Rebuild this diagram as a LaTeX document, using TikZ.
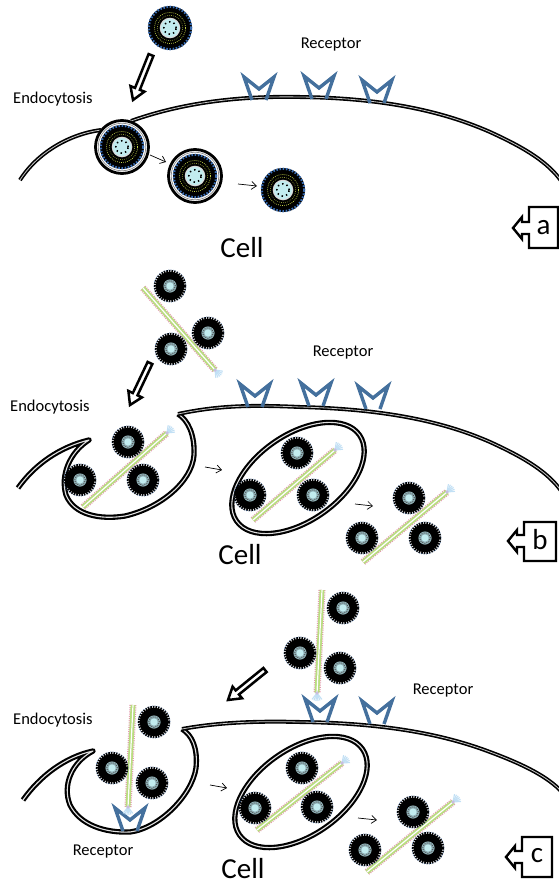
\documentclass[tikz,border=0pt]{standalone}
\usepackage{fontspec}
\setmainfont{Carlito}
\usetikzlibrary{calc,arrows.meta}

\definecolor{recblue}{HTML}{44709D}
\definecolor{dotblue}{HTML}{3C6FB5}
\definecolor{lblue}{HTML}{C2ECEF}
\definecolor{hub}{HTML}{8FB0B6}
\definecolor{ygreen}{HTML}{C8D84A}
\definecolor{rodgreen}{HTML}{B9DD80}
\definecolor{rodpink}{HTML}{E39AAE}
\definecolor{fanblue}{HTML}{C2E0F5}
\definecolor{lavender}{HTML}{C8BDE0}

\tikzset{
  membrane/.style={draw=black, double=black!22, line width=1.6pt, double distance=0.8pt, line join=round},
  pouch/.style={draw=black, double=black!12, line width=2.1pt, double distance=1.1pt, line join=round},
  vesout/.style={draw=black, fill=white, line width=2.8pt},
  vesin/.style={draw=black!45, line width=0.7pt},
  smallarrow/.style={line width=0.7pt, -{Straight Barb[length=5pt,width=8pt]}},
  bigarrow/.style={draw=black, fill=white, line width=2.5pt, line join=miter},
  labelbox/.style={draw=black, fill=white, line width=2.4pt, line join=miter},
  lbl/.style={font=\fontsize{16.5}{19}\selectfont, inner sep=0pt},
  celllbl/.style={font=\fontsize{29}{33}\selectfont, inner sep=0pt},
  boxlbl/.style={font=\fontsize{29}{33}\selectfont, inner sep=0pt},
  receptor/.pic={
    \draw[recblue, line width=3.4pt, line join=miter, miter limit=10]
      (-7,0) -- (-15,-23) -- (0,-11) -- (15,-23) -- (7,0);
  },
  bigparticle/.pic={
    \fill[black] (0,0) circle (22pt);
    \draw[dotblue, line width=2.2pt, dash pattern=on 1.6pt off 1.6pt] (0,0) circle (21.2pt);
    \draw[ygreen, line width=0.7pt, dash pattern=on 0.8pt off 1.2pt] (0,0) circle (15.5pt);
    \draw[ygreen!70!black, line width=0.6pt, dash pattern=on 0.8pt off 1.2pt] (0,0) circle (12.8pt);
    \fill[black!15] (0,0) circle (10.3pt);
    \fill[lblue] (0,0) circle (9.1pt);
    \draw[black, line width=1.6pt, dash pattern=on 1.4pt off 3.2pt] (0,0) circle (6.2pt);
  },
  tire/.pic={
    \fill[black] (0,0) circle (14.2pt);
    \draw[black, line width=3.2pt, dash pattern=on 1.5pt off 1pt] (0,0) circle (14.6pt);
    \draw[dotblue, line width=0.6pt, dash pattern=on 0.6pt off 1.8pt] (0,0) circle (16.1pt);
    \fill[hub] (0,0) circle (6.6pt);
    \draw[black!70, line width=0.9pt, dash pattern=on 0.9pt off 1.3pt] (0,0) circle (5.4pt);
    \fill[lblue] (0,0) circle (3.6pt);
  }
}

% rod of a complex: #1 plain end, #2 tufted end
\newcommand\rod[2]{%
  \draw[rodpink, line width=7pt, dash pattern=on 1pt off 1.2pt] (#1) -- (#2);
  \draw[rodgreen, line width=4.8pt] (#1) -- (#2);
  \draw[white, line width=1.2pt] (#1) -- (#2);
  \foreach \ang in {145,160,175,190,205,220}
    \draw[fanblue, line width=1.1pt] (#2) -- ($(#2)!8pt!\ang:(#1)$);
  \fill[lavender] (#2) circle (1.8pt);
}

% outlined fat arrow from coordinate #1 to coordinate #2
\newcommand\fatarrow[2]{%
  \draw[bigarrow]
    ($(#1)!2.6pt!90:(#2)$) --
    ($(#2)!12pt!(#1)!2.6pt!-90:(#1)$) --
    ($(#2)!12pt!(#1)!7.5pt!-90:(#1)$) --
    (#2) --
    ($(#2)!12pt!(#1)!7.5pt!90:(#1)$) --
    ($(#2)!12pt!(#1)!2.6pt!90:(#1)$) --
    ($(#1)!2.6pt!-90:(#2)$) -- cycle;
}

\begin{document}
\begin{tikzpicture}[x=1pt,y=-1pt]
\useasboundingbox (0,0) rectangle (559,886);
\fill[white] (0,0) rectangle (559,886);

% ================= panel a =================
\draw[membrane] (20,180) .. controls (38,152) and (70,134) .. (101,130);
\draw[membrane] (131,121) .. controls (190,100) and (250,96) .. (300,97)
  .. controls (380,98) and (440,110) .. (490,132)
  .. controls (525,148) and (548,162) .. (562,182);
\pic at (259,100) {receptor};
\pic at (319,99) {receptor};
\pic at (377,103) {receptor};

\draw[vesout] (122,147) circle (26.5pt);
\draw[vesin] (122,147) circle (23.8pt);
\pic at (122,147) {bigparticle};
\draw[vesout] (195,176) circle (26.5pt);
\draw[vesin] (195,176) circle (23.8pt);
\pic at (195,176) {bigparticle};
\pic at (170,28) {bigparticle};
\pic at (283,190) {bigparticle};

\coordinate (aArrS) at (151,55);
\coordinate (aArrE) at (133,100);
\fatarrow{aArrS}{aArrE}
\coordinate (aS1) at (150,155); \coordinate (aE1) at (166,162);
\coordinate (aS2) at (238,184); \coordinate (aE2) at (257,186);
\draw[smallarrow] (aS1) -- (aE1);
\draw[smallarrow] (aS2) -- (aE2);

\node[lbl, anchor=west] (endoA) at (13,99) {Endocytosis};
\node[lbl] (recA) at (331,45) {Receptor};
\node[celllbl] (cellA) at (242,248) {Cell};
\draw[labelbox] (529,207) -- (558,207) -- (558,248) -- (529,248) -- (529,234)
  -- (522,234) -- (522,239) -- (513,228) -- (522,217) -- (522,222) -- (529,222) -- cycle;
\node[boxlbl] (tagA) at (543.5,228) {a};

% ================= panel b =================
\draw[pouch] (18,488) .. controls (35,464) and (60,447) .. (89,440)
  .. controls (70,452) and (60,475) .. (66,495)
  .. controls (74,515) and (100,520) .. (125,516)
  .. controls (160,508) and (192,482) .. (194,455)
  .. controls (195,435) and (188,420) .. (178,414);
\draw[membrane] (178,414) .. controls (220,405) and (255,405) .. (300,407)
  .. controls (380,409) and (440,420) .. (490,442)
  .. controls (525,458) and (548,472) .. (562,492);
\pic at (255,407) {receptor};
\pic at (316,406) {receptor};
\pic at (373,409) {receptor};

\draw[pouch] (298,478) ellipse [x radius=75pt, y radius=43pt, rotate=35];

\rod{143,288}{215,370}
\pic at (170,286) {tire}; \pic at (208,333) {tire}; \pic at (171,349) {tire};
\rod{83,507}{167,433}
\pic at (128,442) {tire}; \pic at (80,480) {tire}; \pic at (143,480) {tire};
\rod{253,520}{335,450}
\pic at (297,453) {tire}; \pic at (250,495) {tire}; \pic at (313,495) {tire};
\rod{363,562}{447,492}
\pic at (409,498) {tire}; \pic at (362,538) {tire}; \pic at (425,538) {tire};

\coordinate (bArrS) at (150,363);
\coordinate (bArrE) at (130,405);
\fatarrow{bArrS}{bArrE}
\coordinate (bS1) at (205,467); \coordinate (bE1) at (222,470);
\coordinate (bS2) at (355,504); \coordinate (bE2) at (373,506);
\draw[smallarrow] (bS1) -- (bE1);
\draw[smallarrow] (bS2) -- (bE2);

\node[lbl, anchor=west] (endoB) at (10,407) {Endocytosis};
\node[lbl] (recB) at (343,353) {Receptor};
\node[celllbl] (cellB) at (240,555) {Cell};
\draw[labelbox] (524,522) -- (556,522) -- (556,561) -- (524,561) -- (524,547)
  -- (517,547) -- (517,552) -- (508,541) -- (517,530) -- (517,535) -- (524,535) -- cycle;
\node[boxlbl] (tagB) at (540,540) {b};

% ================= panel c =================
\draw[pouch] (23,800) .. controls (40,776) and (65,757) .. (93,751)
  .. controls (72,762) and (62,785) .. (70,805)
  .. controls (80,825) and (105,833) .. (130,832)
  .. controls (160,828) and (192,795) .. (196,768)
  .. controls (198,748) and (192,735) .. (182,729);
\draw[membrane] (182,729) .. controls (220,722) and (260,721) .. (300,722)
  .. controls (380,723) and (440,733) .. (490,752)
  .. controls (525,765) and (548,777) .. (562,792);
\pic at (320,722) {receptor};
\pic at (377,724) {receptor};
\pic at (130,831) {receptor};

\draw[pouch] (301,792) ellipse [x radius=75pt, y radius=43pt, rotate=35];

\rod{322,590}{317,693}
\pic at (343,608) {tire}; \pic at (300,653) {tire}; \pic at (340,668) {tire};
\rod{133,705}{128,807}
\pic at (154,722) {tire}; \pic at (112,768) {tire}; \pic at (152,783) {tire};
\rod{257,830}{342,763}
\pic at (302,768) {tire}; \pic at (255,808) {tire}; \pic at (317,807) {tire};
\rod{367,872}{453,802}
\pic at (413,812) {tire}; \pic at (365,850) {tire}; \pic at (428,848) {tire};

\coordinate (cArrS) at (265,670);
\coordinate (cArrE) at (228,700);
\fatarrow{cArrS}{cArrE}
\coordinate (cS1) at (210,785); \coordinate (cE1) at (227,788);
\coordinate (cS2) at (358,818); \coordinate (cE2) at (377,820);
\draw[smallarrow] (cS1) -- (cE1);
\draw[smallarrow] (cS2) -- (cE2);

\node[lbl, anchor=west] (endoC) at (13,720) {Endocytosis};
\node[lbl] (recC) at (443,691) {Receptor};
\node[lbl] (recC2) at (103,852) {Receptor};
\node[celllbl] (cellC) at (243,869) {Cell};
\draw[labelbox] (522,837) -- (552,837) -- (552,877) -- (522,877) -- (522,863)
  -- (515,863) -- (515,868) -- (506,857) -- (515,846) -- (515,851) -- (522,851) -- cycle;
\node[boxlbl] (tagC) at (537,856) {c};
\end{tikzpicture}
\end{document}
